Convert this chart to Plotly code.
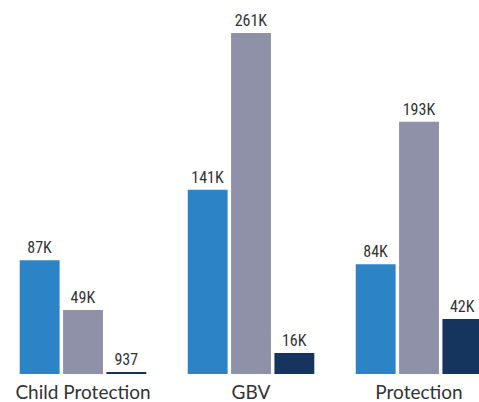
import plotly.graph_objects as go

categories = ["Child Protection", "GBV", "Protection"]
series_a = [87000, 141000, 84000]
series_b = [49000, 261000, 193000]
series_c = [937, 16000, 42000]
labels_a = ["87K", "141K", "84K"]
labels_b = ["49K", "261K", "193K"]
labels_c = ["937", "16K", "42K"]

colors = ["#2C84C6", "#8F91A8", "#15345E"]
label_font = dict(family="Liberation Sans Narrow, Roboto Condensed, Arial Narrow, sans-serif", size=16, color="#333333")

fig = go.Figure()
for vals, labs, col in [(series_a, labels_a, colors[0]), (series_b, labels_b, colors[1]), (series_c, labels_c, colors[2])]:
    fig.add_trace(go.Bar(
        x=categories, y=vals, text=labs, textposition="outside",
        constraintext="none",
        marker=dict(color=col, line=dict(width=0)),
        textfont=label_font, cliponaxis=False, hoverinfo="skip",
    ))

fig.update_layout(
    width=479, height=402,
    margin=dict(l=0, r=0, t=0, b=28),
    barmode="group", bargap=0.226, bargroupgap=0.08,
    plot_bgcolor="white", paper_bgcolor="white",
    showlegend=False,
    xaxis=dict(range=[-0.494, 2.357], showgrid=False, zeroline=False, showline=False,
               ticks="", automargin=False, ticklabelstandoff=5,
               tickfont=dict(family="Lato, Open Sans, sans-serif", size=19, color="#333333")),
    yaxis=dict(range=[0, 286250], visible=False, showgrid=False, zeroline=False),
)
fig.write_html(
    "out.html",
    config={"displayModeBar": False},
    post_script="document.body.style.margin='0';document.body.style.overflow='hidden';",
)
